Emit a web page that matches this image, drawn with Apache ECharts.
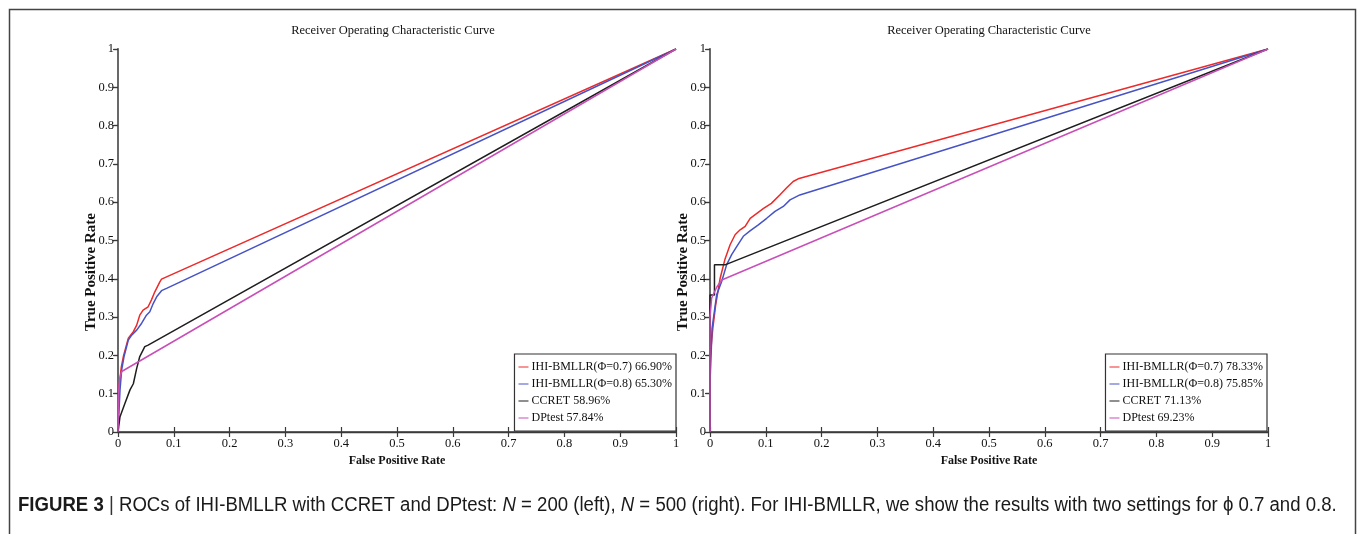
<!DOCTYPE html>
<html><head><meta charset="utf-8">
<script src="https://cdn.jsdelivr.net/npm/echarts@6/dist/echarts.min.js"></script>
<style>html,body{margin:0;padding:0;background:#fff;}#c{width:1360px;height:534px;}</style>
</head><body><div id="c"></div>
<script>
// ---- data ----
const chartTitle = 'Receiver Operating Characteristic Curve';
const xAxisName = 'False Positive Rate';
const yAxisName = 'True Positive Rate';
const leftNames = ['IHI-BMLLR(\u03A6=0.7) 66.90%', 'IHI-BMLLR(\u03A6=0.8) 65.30%', 'CCRET 58.96%', 'DPtest 57.84%'];
const rightNames = ['IHI-BMLLR(\u03A6=0.7) 78.33%', 'IHI-BMLLR(\u03A6=0.8) 75.85%', 'CCRET 71.13%', 'DPtest 69.23%'];
// Left panel (N = 200): [FPR, TPR]
const leftRed = [[0,0],[0.002,0.12],[0.006,0.17],[0.0096,0.197],[0.0185,0.245],[0.0275,0.262],[0.0335,0.279],[0.039,0.305],[0.045,0.318],[0.054,0.327],[0.060,0.345],[0.066,0.366],[0.075,0.392],[0.078,0.399],[1,1]];
const leftBlue = [[0,0],[0.0036,0.110],[0.0066,0.162],[0.0108,0.197],[0.0185,0.240],[0.0245,0.253],[0.0335,0.266],[0.0424,0.284],[0.051,0.305],[0.057,0.314],[0.0633,0.336],[0.0693,0.353],[0.078,0.369],[0.087,0.375],[1,1]];
const leftBlack = [[0,0],[0.0036,0.040],[0.0125,0.075],[0.0215,0.110],[0.0275,0.126],[0.0335,0.166],[0.039,0.197],[0.048,0.223],[0.054,0.227],[1,1]];
const leftMagenta = [[0,0],[0.001,0.10],[0.003,0.14],[0.0066,0.158],[1,1]];
// Right panel (N = 500)
const rightRed = [[0,0],[0,0.19],[0.005,0.27],[0.010,0.33],[0.018,0.40],[0.027,0.452],[0.036,0.489],[0.045,0.515],[0.054,0.528],[0.063,0.537],[0.072,0.558],[0.084,0.571],[0.096,0.584],[0.110,0.597],[0.125,0.619],[0.137,0.637],[0.149,0.654],[0.158,0.661],[1,1]];
const rightBlue = [[0,0],[0,0.13],[0.002,0.20],[0.0036,0.27],[0.0119,0.358],[0.0209,0.393],[0.0299,0.437],[0.0388,0.463],[0.0478,0.484],[0.0597,0.511],[0.0717,0.525],[0.0866,0.541],[0.1016,0.558],[0.1165,0.576],[0.1314,0.589],[0.1434,0.606],[0.161,0.619],[1,1]];
const rightBlack = [[0,0],[0,0.358],[0.008,0.358],[0.008,0.437],[0.028,0.437],[1,1]];
const rightMagenta = [[0,0],[0,0.30],[0.003,0.35],[0.012,0.378],[0.021,0.397],[1,1]];
const captionText = '{b|FIGURE 3} {s||} ROCs of IHI-BMLLR with CCRET and DPtest: {i|N} = 200 (left), {i|N} = 500 (right). For IHI-BMLLR, we show the results with two settings for \u03D5 0.7 and 0.8.';

// ---- styles ----
const colors = ['#ec2a2a', '#4653c6', '#1e1e1e', '#c94fb8'];
const serif = '"Liberation Serif", "DejaVu Serif", serif';
const sans = '"Liberation Sans", Arial, sans-serif';
const axisCol = '#3a3a3a';
const txtCol = '#111';

const grids = [
  {left: 118, right: 684, top: 49, bottom: 102},
  {left: 710, right: 92, top: 49, bottom: 102}
];

function xAxes(gi) {
  return [
    {type: 'value', gridIndex: gi, position: 'bottom', min: 0, max: 1, interval: 0.1,
     axisLine: {lineStyle: {color: axisCol, width: 1.6}}, axisTick: {inside: true, length: 5, lineStyle: {color: axisCol, width: 1.2}},
     splitLine: {show: false}, axisLabel: {margin: 5, color: txtCol, fontFamily: serif, fontSize: 12.5},
     name: xAxisName, nameLocation: 'middle', nameGap: 20,
     nameTextStyle: {fontFamily: serif, fontWeight: 'bold', fontSize: 12, color: txtCol}},
    {type: 'value', gridIndex: gi, position: 'top', min: 0, max: 1, interval: 0.1,
     axisLine: {lineStyle: {color: axisCol, width: 1.4}}, axisTick: {inside: true, length: 5, lineStyle: {color: axisCol, width: 1.2}},
     splitLine: {show: false}, axisLabel: {show: false}}
  ];
}
function yAxes(gi) {
  return [
    {type: 'value', gridIndex: gi, position: 'left', min: 0, max: 1, interval: 0.1,
     axisLine: {lineStyle: {color: '#666', width: 1.8}}, axisTick: {inside: false, length: 4, lineStyle: {color: axisCol, width: 1.2}},
     splitLine: {show: false}, axisLabel: {margin: 4, color: txtCol, fontFamily: serif, fontSize: 12.5}},
    {type: 'value', gridIndex: gi, position: 'right', min: 0, max: 1, interval: 0.1,
     axisLine: {lineStyle: {color: '#666', width: 1.6}}, axisTick: {inside: true, length: 5, lineStyle: {color: axisCol, width: 1.2}},
     splitLine: {show: false}, axisLabel: {show: false}}
  ];
}

function mk(name, data, ci, axisIdx) {
  return {type: 'line', name: name, data: data, xAxisIndex: axisIdx, yAxisIndex: axisIdx,
    symbol: 'none', showSymbol: false, animation: false, silent: true,
    lineStyle: {color: colors[ci], width: 1.5}, itemStyle: {color: colors[ci]}};
}

const legendBase = {
  orient: 'vertical', itemWidth: 10, itemHeight: 12, itemGap: 5,
  padding: [7, 4, 7, 4], borderColor: '#333', borderWidth: 1.2, backgroundColor: '#fff',
  textStyle: {fontFamily: serif, fontSize: 12, color: txtCol, padding: [0, 0, 0, -2]},
  selectedMode: false, icon: 'path://M0,5 L10,5 L10,6 L0,6 Z'
};

function yName(x) {
  return {type: 'text', x: x, y: 272, rotation: Math.PI / 2,
    style: {text: yAxisName, font: 'bold 15px ' + serif, fill: txtCol, textAlign: 'center', textVerticalAlign: 'middle'}};
}

const chart = echarts.init(document.getElementById('c'), null, {renderer: 'canvas'});
chart.setOption({
  animation: false,
  backgroundColor: '#fff',
  grid: grids,
  xAxis: xAxes(0).concat(xAxes(1)),
  yAxis: yAxes(0).concat(yAxes(1)),
  legend: [
    Object.assign({}, legendBase, {data: leftNames, right: 684, bottom: 103}),
    Object.assign({}, legendBase, {data: rightNames, right: 93, bottom: 103})
  ],
  series: [
    mk(leftNames[0], leftRed, 0, 0),
    mk(leftNames[1], leftBlue, 1, 0),
    mk(leftNames[2], leftBlack, 2, 0),
    mk(leftNames[3], leftMagenta, 3, 0),
    mk(rightNames[0], rightRed, 0, 2),
    mk(rightNames[1], rightBlue, 1, 2),
    mk(rightNames[2], rightBlack, 2, 2),
    mk(rightNames[3], rightMagenta, 3, 2)
  ],
  graphic: [
    {type: 'rect', left: 7, top: 7, shape: {width: 1346, height: 600}, style: {fill: 'none', stroke: '#444', lineWidth: 1.5}, silent: true},
    {type: 'text', x: 393, y: 31, style: {text: chartTitle, font: '12.5px ' + serif, fill: txtCol, textAlign: 'center', textVerticalAlign: 'middle'}},
    {type: 'text', x: 989, y: 31, style: {text: chartTitle, font: '12.5px ' + serif, fill: txtCol, textAlign: 'center', textVerticalAlign: 'middle'}},
    yName(91),
    yName(683),
    {type: 'text', x: 18, y: 505, scaleX: 0.93, style: {text: captionText, fill: '#1a1a1a', textVerticalAlign: 'middle',
      fontFamily: sans, fontSize: 20,
      rich: {
        b: {fontWeight: 'bold', fontFamily: sans, fontSize: 20, fill: '#1a1a1a'},
        s: {fontFamily: sans, fontSize: 20, fill: '#333'},
        i: {fontStyle: 'italic', fontFamily: sans, fontSize: 20, fill: '#1a1a1a'}
      }}}
  ]
});
</script></body></html>
